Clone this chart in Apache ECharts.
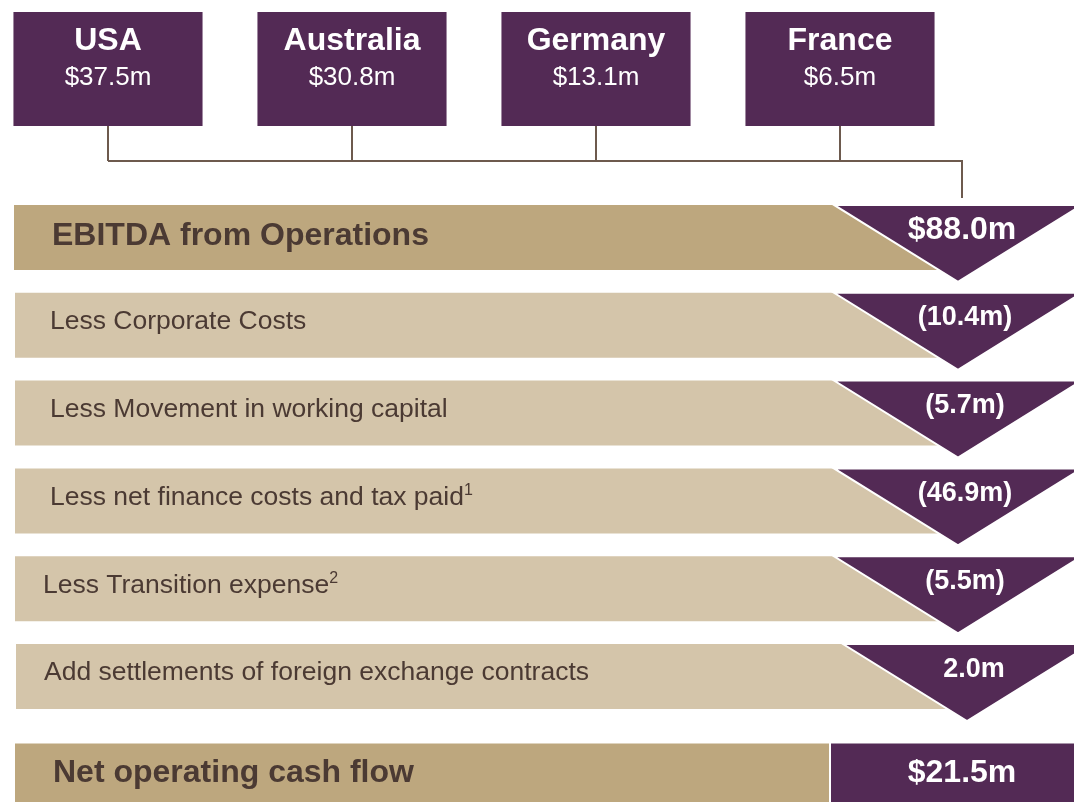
<!DOCTYPE html>
<html>
<head>
<meta charset="utf-8">
<title>EBITDA to net operating cash flow</title>
<script src="https://cdn.jsdelivr.net/npm/echarts@6/dist/echarts.min.js"></script>
<style>
html,body{margin:0;padding:0;background:#fff;}
#main{width:1074px;height:802px;}
</style>
</head>
<body>
<div id="main"></div>
<script>
// values
const regions = ['USA', 'Australia', 'Germany', 'France'];
const regionEbitda = [37.5, 30.8, 13.1, 6.5];
const steps = [
  'EBITDA from Operations',
  'Less Corporate Costs',
  'Less Movement in working capital',
  'Less net finance costs and tax paid',
  'Less Transition expense',
  'Add settlements of foreign exchange contracts'
];
const stepValues = [88.0, -10.4, -5.7, -46.9, -5.5, 2.0];
const stepNotes = ['', '', '', '1', '2', ''];
const totalName = ['Net operating cash flow'];
const totalValue = [21.5];

const purple = '#532a55', tanDark = '#bda77e', tanLight = '#d4c5aa';
const ink = '#4b3a33', wire = '#6d5a4e';
const font = '"Liberation Sans", Arial, Helvetica, sans-serif';

// little layout tweaks, not data
const labelIndent = [52, 50, 50, 50, 43, 44];
const triW = 124, triH = 77, triLeft = 834, dropX = 962;

const money = v => '$' + v.toFixed(1) + 'm';
const stepLabel = (v, i) => i === 0 ? money(v) : (v < 0 ? '(' + Math.abs(v).toFixed(1) + 'm)' : v.toFixed(1) + 'm');

function txt(x, y, text, size, bold, fill, align) {
  return {
    type: 'text', x: x, y: y,
    style: {
      text: text, fill: fill, fontFamily: font, fontSize: size,
      fontWeight: bold ? 'bold' : 'normal',
      align: align || 'center', verticalAlign: 'middle'
    }
  };
}

function renderRegion(params, api) {
  const i = api.value(0);
  const top = api.coord([i, 1]), bot = api.coord([i, 0]);
  const w = api.size([1, 0])[0] * 0.775;
  const cx = top[0];
  const kids = [
    { type: 'rect', shape: { x: cx - w / 2, y: top[1], width: w, height: bot[1] - top[1] }, style: { fill: purple } },
    txt(cx, top[1] + 29, regions[i], 32, true, '#fff'),
    txt(cx, top[1] + 66, money(api.value(1)), 26, false, '#fff'),
    { type: 'line', shape: { x1: cx, y1: bot[1], x2: cx, y2: bot[1] + 35 }, style: { stroke: wire, lineWidth: 2 } }
  ];
  if (i === regions.length - 1) {
    const first = api.coord([0, 0]);
    kids.push({
      type: 'polyline',
      shape: { points: [[first[0], bot[1] + 35], [dropX, bot[1] + 35], [dropX, bot[1] + 72]] },
      style: { stroke: wire, lineWidth: 2, fill: null }
    });
  }
  return { type: 'group', children: kids };
}

function renderStep(params, api) {
  const i = api.value(1);
  const c = api.coord([0, i]);
  const top = c[1] - 32, h = 65;
  const head = i === 0;
  const last = i === steps.length - 1;
  const tl = triLeft + (last ? 9 : 0);
  const x0 = head ? 14 : (last ? 16 : 15);
  const note = stepNotes[i];
  const label = {
    type: 'text', x: labelIndent[i], y: c[1] - (head ? 1 : 3),
    style: {
      text: '{m|' + steps[i] + '}' + (note ? '{s|' + note + '}' : ''),
      fill: ink, align: 'left', verticalAlign: 'middle',
      rich: {
        m: { fontFamily: font, fontSize: head ? 32 : 26.5, fontWeight: head ? 'bold' : 'normal', fill: ink, lineHeight: 30 },
        s: { fontFamily: font, fontSize: 16, fill: ink, verticalAlign: 'top', lineHeight: 18 }
      }
    }
  };
  return {
    type: 'group',
    children: [
      { type: 'rect', shape: { x: x0, y: top, width: tl + triW - x0, height: h }, style: { fill: head ? tanDark : tanLight } },
      label,
      {
        type: 'polygon',
        shape: { points: [[tl, top], [tl + 2 * triW, top], [tl + triW, top + triH]] },
        style: { fill: purple, stroke: '#fff', lineWidth: 2 }
      },
      txt(tl + triW + (head ? 4 : 7), top + 25, stepLabel(api.value(2), i), head ? 32 : 27, true, '#fff')
    ]
  };
}

function renderTotal(params, api) {
  const c = api.coord([0, api.value(1)]);
  const top = c[1] - 30, h = 64;
  return {
    type: 'group',
    children: [
      { type: 'rect', shape: { x: 15, y: top, width: 814, height: h }, style: { fill: tanDark } },
      { type: 'rect', shape: { x: 831, y: top, width: 250, height: h }, style: { fill: purple } },
      txt(53, c[1], totalName[0], 32, true, ink, 'left'),
      txt(962, c[1], money(api.value(2)), 32, true, '#fff')
    ]
  };
}

const chart = echarts.init(document.getElementById('main'));
chart.setOption({
  backgroundColor: '#fff',
  animation: false,
  grid: [
    { left: 0, right: 0, top: 12, height: 114 },
    { left: 0, right: 0, top: 193, height: 527 },
    { left: 0, right: 0, top: 745, height: 60 }
  ],
  xAxis: [
    // region slots are 244px apart, the first centred at x=108
    { gridIndex: 0, type: 'value', min: -0.4426, max: 3.9590, show: false },
    { gridIndex: 1, type: 'value', min: 0, max: 1, show: false },
    { gridIndex: 2, type: 'value', min: 0, max: 1, show: false }
  ],
  yAxis: [
    { gridIndex: 0, type: 'value', min: 0, max: 1, show: false },
    { gridIndex: 1, type: 'category', data: steps, inverse: true, show: false },
    { gridIndex: 2, type: 'category', data: totalName, inverse: true, show: false }
  ],
  series: [
    {
      type: 'custom', xAxisIndex: 0, yAxisIndex: 0, silent: true,
      encode: { x: 0, y: -1 },
      renderItem: renderRegion,
      data: regions.map((r, i) => [i, regionEbitda[i]])
    },
    {
      type: 'custom', xAxisIndex: 1, yAxisIndex: 1, silent: true,
      encode: { x: 0, y: 1 },
      renderItem: renderStep,
      data: steps.map((s, i) => [0, i, stepValues[i]])
    },
    {
      type: 'custom', xAxisIndex: 2, yAxisIndex: 2, silent: true,
      encode: { x: 0, y: 1 },
      renderItem: renderTotal,
      data: totalName.map((s, i) => [0, i, totalValue[i]])
    }
  ]
});
</script>
</body>
</html>
